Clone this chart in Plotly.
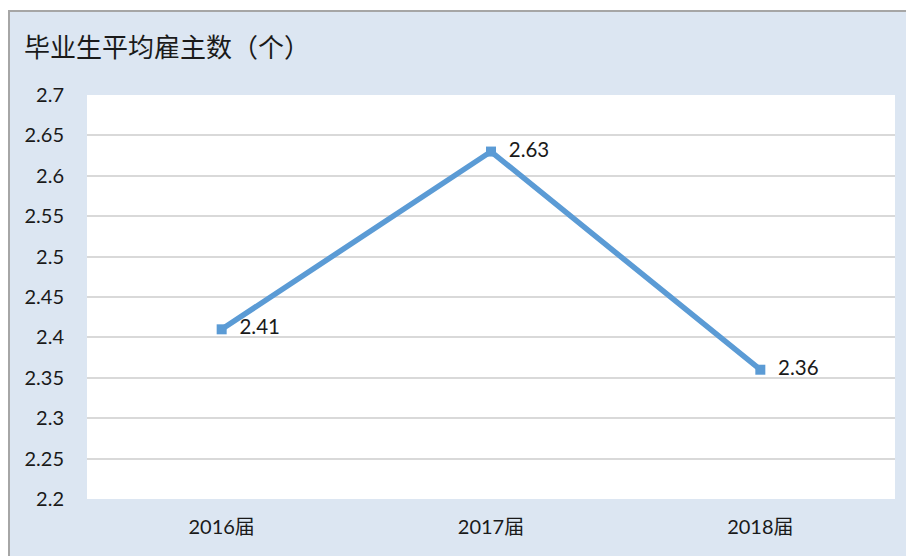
import plotly.graph_objects as go

categories = ["2016届", "2017届", "2018届"]
values = [2.41, 2.63, 2.36]
tick_vals = [2.2, 2.25, 2.3, 2.35, 2.4, 2.45, 2.5, 2.55, 2.6, 2.65, 2.7]
tick_text = ["2.2", "2.25", "2.3", "2.35", "2.4", "2.45", "2.5", "2.55", "2.6", "2.65", "2.7"]
title_text = "毕业生平均雇主数（个）"

W, H = 906, 548
OFF = 8  # page body margin
L, R, T, B = 87 - OFF, W - (895 - OFF), 95 - OFF, H - (499 - OFF)
pw, ph = W - L - R, H - T - B

def px_x(p):
    return (p - OFF - L) / pw

def px_y(p):
    return (H - B - (p - OFF)) / ph

fig = go.Figure()
fig.add_trace(go.Scatter(
    x=categories, y=values,
    mode="lines+markers+text",
    line=dict(color="#5b9bd5", width=5.5),
    marker=dict(symbol="square", size=10, color="#5b9bd5"),
    text=["  " + f"{v:.2f}" for v in values],
    textposition="middle right",
    textfont=dict(family="Lato, Open Sans, sans-serif", size=20.5, color="#1a1a1a"),
    cliponaxis=False,
    hoverinfo="skip",
))

fig.update_layout(
    width=W, height=H,
    margin=dict(l=L, r=R, t=T, b=B),
    paper_bgcolor="#dce6f2",
    plot_bgcolor="white",
    showlegend=False,
    shapes=[
        dict(type="rect", xref="paper", yref="paper", layer="below",
             x0=px_x(0), x1=px_x(9), y0=px_y(600), y1=px_y(0),
             fillcolor="white", line=dict(width=0)),
        dict(type="rect", xref="paper", yref="paper", layer="below",
             x0=px_x(0), x1=px_x(960), y0=px_y(11), y1=px_y(0),
             fillcolor="white", line=dict(width=0)),
        dict(type="rect", xref="paper", yref="paper", layer="below",
             x0=px_x(9), x1=px_x(960), y0=px_y(600), y1=px_y(11),
             fillcolor="rgba(0,0,0,0)", line=dict(color="#a6a6a6", width=2)),
        dict(type="rect", xref="paper", yref="paper", layer="below",
             x0=0, x1=1, y0=0, y1=1,
             fillcolor="white", line=dict(width=0)),
    ],
    annotations=[
        dict(text=title_text, xref="paper", yref="paper",
             x=px_x(22), y=px_y(46), xanchor="left", yanchor="middle",
             showarrow=False,
             font=dict(family="Noto Sans CJK SC", size=26, color="#1a1a1a")),
    ],
)

fig.update_xaxes(
    type="category", range=[-0.5, 2.5],
    showgrid=False, zeroline=False, showline=False,
    ticks="", ticklabelstandoff=14,
    tickfont=dict(family="Lato, Noto Sans CJK SC, sans-serif", size=20, color="#1a1a1a"),
)
fig.update_yaxes(
    range=[2.2, 2.7], tickvals=tick_vals, ticktext=tick_text,
    showgrid=True, gridcolor="#d9d9d9", gridwidth=2,
    zeroline=False, showline=False, ticks="", ticklabelstandoff=22,
    tickfont=dict(family="Lato, Open Sans, sans-serif", size=20, color="#1a1a1a"),
)

fig.write_html("out.html")
